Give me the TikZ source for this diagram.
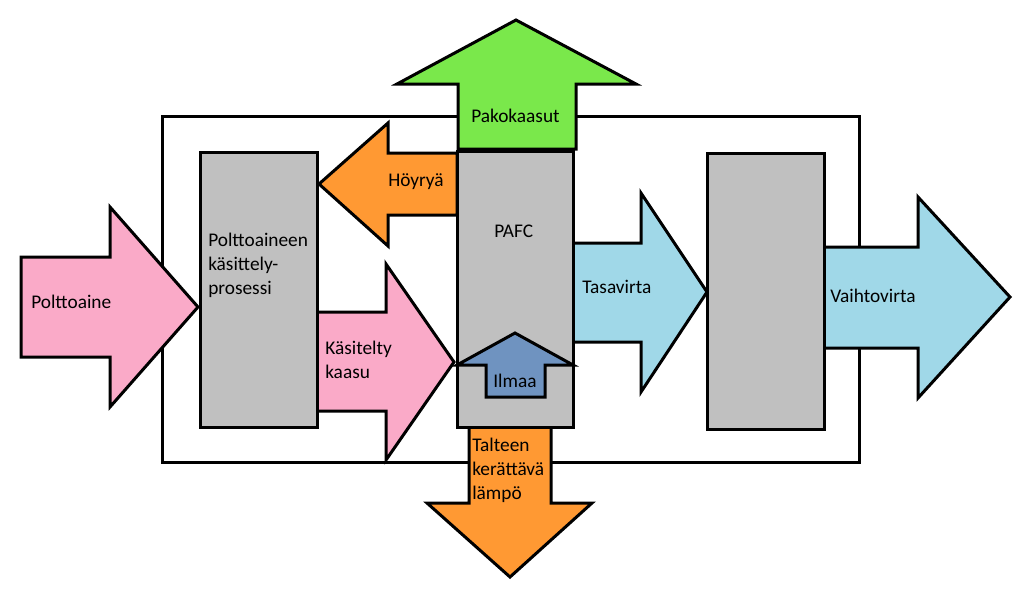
\documentclass[tikz,border=0pt]{standalone}
\usepackage{fontspec}
\setmainfont{Carlito}
\definecolor{unitgray}{RGB}{192,192,192}
\definecolor{fuelpink}{RGB}{250,170,200}
\definecolor{steamorange}{RGB}{255,153,51}
\definecolor{exhaustgreen}{RGB}{122,232,75}
\definecolor{powerblue}{RGB}{160,216,232}
\definecolor{airblue}{RGB}{111,147,192}
\begin{document}
\begin{tikzpicture}[x=0.75pt,y=-0.75pt]
    \tikzstyle{frame}=[draw,line width = 2.25pt,black]
    \tikzstyle{unit}=[draw,line width = 2.25pt,fill=unitgray]
    \tikzstyle{flow}=[draw,line width = 2.25pt,line join=miter]
    \tikzstyle{flowtext}=[font=\fontsize{14.5}{18}\selectfont,inner sep=0pt,anchor=base west,align=left]
    \useasboundingbox (0,0) rectangle (1023,601);
    % system boundary
    \draw[frame] (162,116) rectangle (859,462);
    % flows in and out
    \draw[flow,fill=fuelpink] (21,257) -- (110,257) -- (110,207) -- (198,307) -- (110,407) -- (110,357) -- (21,357) -- cycle;
    \draw[flow,fill=steamorange] (457,153) -- (388,153) -- (388,123) -- (319,184) -- (388,246) -- (388,215) -- (457,215) -- cycle;
    \draw[flow,fill=fuelpink] (317,312) -- (386,312) -- (386,264) -- (454,362) -- (386,460) -- (386,411) -- (317,411) -- cycle;
    \draw[flow,fill=exhaustgreen] (458,149) -- (458,84) -- (397,84) -- (516,20) -- (636,84) -- (576,84) -- (576,149) -- cycle;
    \draw[flow,fill=steamorange] (469,427) -- (469,503) -- (427,503) -- (510,577) -- (592,503) -- (551,503) -- (551,427) -- cycle;
    \draw[flow,fill=powerblue] (573,243) -- (641,243) -- (641,193) -- (707,292) -- (641,392) -- (641,342) -- (573,342) -- cycle;
    \draw[flow,fill=powerblue] (824,247) -- (918,247) -- (918,197) -- (1010,297) -- (918,398) -- (918,348) -- (824,348) -- cycle;
    % units
    \draw[unit] (200,152) rectangle (317,427);
    \draw[unit] (457,151) rectangle (573,427);
    \draw[unit] (707,153) rectangle (824,429);
    \draw[flow,fill=airblue] (486,397) -- (486,365) -- (457,365) -- (515,333) -- (573,365) -- (545,365) -- (545,397) -- cycle;
    % texts (multi-line ones sit on their last line)
    \node[flowtext] (fuel) at (31,308) {Polttoaine};
    \node[flowtext] (proc) at (208,294) {Polttoaineen\\käsittely-\\prosessi};
    \node[flowtext] (steam) at (388,186) {Höyryä};
    \node[flowtext] (gas) at (325,378) {Käsitelty\\kaasu};
    \node[flowtext] (exhaust) at (471,122) {Pakokaasut};
    \node[flowtext] (cell) at (494,237) {PAFC};
    \node[flowtext] (air) at (493,387) {Ilmaa};
    \node[flowtext] (heat) at (472,499) {Talteen\\kerättävä\\lämpö};
    \node[flowtext] (dc) at (582,293) {Tasavirta};
    \node[flowtext] (ac) at (830,302) {Vaihtovirta};
\end{tikzpicture}
\end{document}
